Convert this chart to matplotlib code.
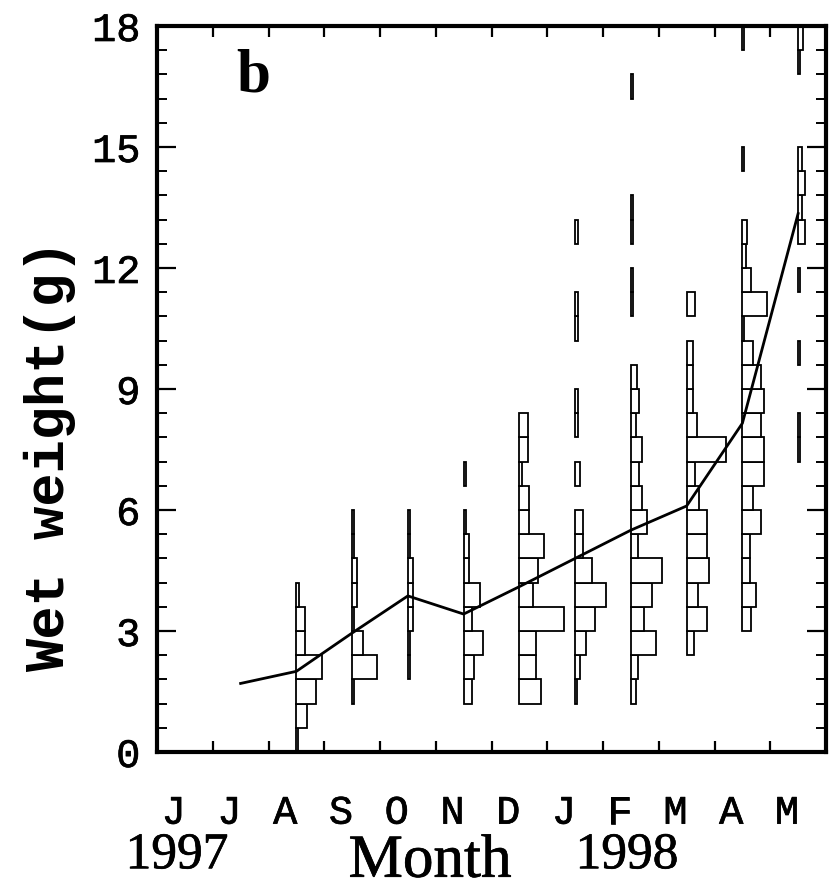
import numpy as np
import matplotlib
matplotlib.use("Agg")
import matplotlib.pyplot as plt
import matplotlib.patheffects as pe

# month letters (Jun 1997 .. May 1998)
months = ["J", "J", "A", "S", "O", "N", "D", "J", "F", "M", "A", "M"]

# monthly mean wet weight (g), Jul 1997 .. May 1998
mean_x = [1.5, 2.5, 3.5, 4.5, 5.5, 6.5, 7.5, 8.5, 9.5, 10.5, 11.5]
mean_wt = [1.7, 2.0, 2.95, 3.87, 3.42, 4.1, 4.8, 5.5, 6.1, 8.15, 13.35]

# size-frequency histograms, 0.6 g bins, bar length in relative frequency units
bin_w = 0.6
aug = [2, 11, 20, 25.7, 8.3, 8.3, 2.3]
sep = [2.3, 25, 11, 2.3, 5, 5, 2.3, 2.3]
oct_ = [2.3, 2.3, 5, 5, 5, 2.3, 2.3]
nov = [8.3, 10.7, 19, 8.3, 16.7, 5, 5, 2.3, 0, 2.3]
dec = [21.7, 16.7, 16.7, 45, 13.3, 19, 25, 10, 10, 2.7, 8.3, 8.3]
jan = [2.3, 5, 11, 20, 30.7, 16.7, 8.3, 8.3, 0, 5, 0, 2.5, 2.5, 0, 0, 2.5,
       2.5, 0, 0, 2.5]
feb = [4.7, 7.3, 24.7, 13.3, 21.3, 30.7, 7.3, 15.7, 10.7, 8, 10.7, 4.7, 8,
       5.7, 0, 0, 2, 2, 0, 2, 2, 0, 0, 0, 0, 2]
mar = [7, 20, 11, 22.7, 20, 20, 12, 8, 39, 10.5, 6, 6, 6, 0, 8.7]
apr = [8.3, 14, 7.3, 7.3, 19, 10.7, 22, 22, 19, 22, 19, 10.7, 1.7, 25, 8.3,
       4, 5, 0, 0, 1.7, 0, 0, 0, 0, 1.7]
may = [2, 2, 0, 0, 2, 0, 0, 2, 0, 7.3, 4, 7.3, 4, 0, 0, 0, 1.5, 4.7]

hists = [aug, sep, oct_, nov, dec, jan, feb, mar, apr, may]
hist_base = [2.5, 3.5, 4.5, 5.5, 6.5, 7.5, 8.5, 9.5, 10.5, 11.5]
hist_start = [0.0, 1.2, 1.8, 1.2, 1.2, 1.2, 1.2, 2.4, 3.0, 7.2]

freq_scale = 1 / 55.7  # frequency units -> month units on the x axis

W, H = 833, 888
fig = plt.figure(figsize=(W / 100, H / 100), dpi=100)
ax = fig.add_axes([157 / W, 1 - 752 / H, (826 - 157) / W, (752 - 26) / H])

for base, start, freq in zip(hist_base, hist_start, hists):
    freq = np.array(freq, dtype=float)
    bottoms = start + bin_w * np.arange(len(freq))
    keep = freq > 0
    ax.barh(bottoms[keep], freq[keep] * freq_scale, height=bin_w, left=base,
            align="edge", facecolor="white", edgecolor="black", linewidth=1.3,
            zorder=2)

ax.plot(mean_x, mean_wt, color="black", lw=2.0, zorder=3)

ax.set_xlim(0, 12)
ax.set_ylim(0, 18)

mono = "Liberation Mono"
serif = "Liberation Serif"
heavy = [pe.withStroke(linewidth=0.5, foreground="black")]

ax.set_xticks(np.arange(1, 12))
ax.set_xticklabels([])
ax.set_xticks(np.arange(12) + 0.3, minor=True)
ax.set_xticklabels(months, minor=True, fontsize=29, family=mono)
ax.tick_params(axis="x", which="major", direction="in", length=8, width=1.6,
               top=True, bottom=True)
ax.tick_params(axis="x", which="minor", length=0, pad=30)

ax.set_yticks(np.arange(0, 19, 3))
ax.set_yticks(np.arange(0, 18.01, 0.6), minor=True)
ax.set_yticklabels([str(v) for v in range(0, 19, 3)], fontsize=29, family=mono)
ax.tick_params(axis="y", which="major", direction="in", length=14, width=1.6,
               left=True, right=True, pad=12)
ax.tick_params(axis="y", which="minor", direction="in", length=7, width=1.4,
               left=True, right=True)

for lab in ax.get_xticklabels(minor=True) + ax.get_yticklabels():
    lab.set_path_effects(heavy)

for sp in ax.spines.values():
    sp.set_linewidth(3)

ax.text(1.72, 16.75, "b", fontsize=44, fontweight="bold", family=serif,
        ha="center", va="center")

fig.text(50 / W, 1 - 456 / H, "Wet weight(g)", rotation=90, fontsize=40,
         fontweight="bold", family=mono, ha="center", va="center")
fig.text(177 / W, 1 - 856 / H, "1997", fontsize=37, family=serif,
         ha="center", va="center", path_effects=heavy)
fig.text(430 / W, 1 - 862 / H, "Month", fontsize=44, family=serif,
         ha="center", va="center", path_effects=heavy)
fig.text(627 / W, 1 - 856 / H, "1998", fontsize=37, family=serif,
         ha="center", va="center", path_effects=heavy)

fig.savefig("out.png", dpi=100)
